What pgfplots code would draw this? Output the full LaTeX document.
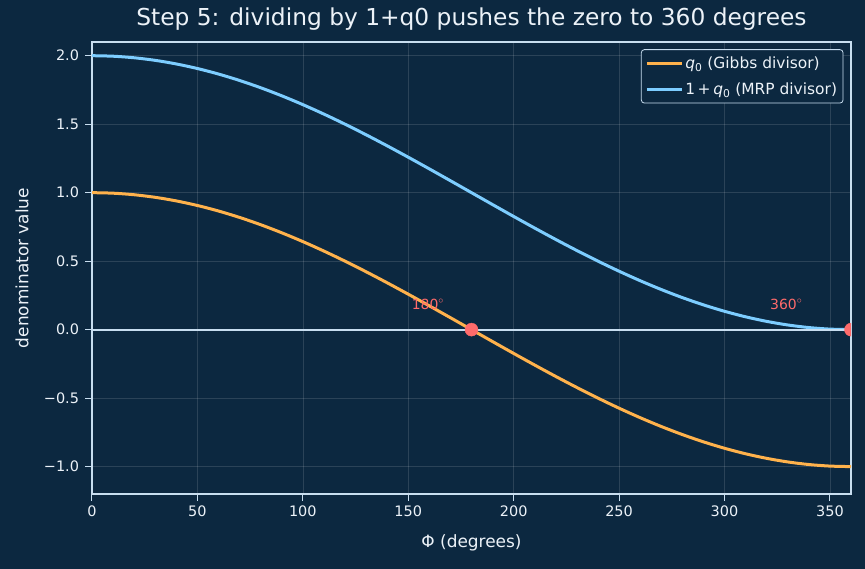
\documentclass[border=0pt]{standalone}
\usepackage{fontspec}
\setmainfont{DejaVu Sans}
\usepackage{pgfplots}
\pgfplotsset{compat=1.18}
\usepackage{pgfplotstable}
\definecolor{bg}{RGB}{12,40,64}
\definecolor{spine}{RGB}{200,222,240}
\definecolor{qorange}{RGB}{255,178,76}
\definecolor{qblue}{RGB}{125,205,255}
\definecolor{mred}{RGB}{255,107,107}
\definecolor{txt}{RGB}{236,242,248}
\pgfplotstableread{
phi q0 onepq0
0 1 2
10 0.99619 1.99619
20 0.98481 1.98481
30 0.96593 1.96593
40 0.93969 1.93969
50 0.90631 1.90631
60 0.86603 1.86603
70 0.81915 1.81915
80 0.76604 1.76604
90 0.70711 1.70711
100 0.64279 1.64279
110 0.57358 1.57358
120 0.5 1.5
130 0.42262 1.42262
140 0.34202 1.34202
150 0.25882 1.25882
160 0.17365 1.17365
170 0.08716 1.08716
180 0 1
190 -0.08716 0.91284
200 -0.17365 0.82635
210 -0.25882 0.74118
220 -0.34202 0.65798
230 -0.42262 0.57738
240 -0.5 0.5
250 -0.57358 0.42642
260 -0.64279 0.35721
270 -0.70711 0.29289
280 -0.76604 0.23396
290 -0.81915 0.18085
300 -0.86603 0.13397
310 -0.90631 0.09369
320 -0.93969 0.06031
330 -0.96593 0.03407
340 -0.98481 0.01519
350 -0.99619 0.00381
360 -1 0
}\datatable
\begin{document}
\begin{tikzpicture}
\fill[bg] (-92bp,-75bp) rectangle (773bp,494bp);
\useasboundingbox (-92bp,-75bp) rectangle (773bp,494bp);
\begin{axis}[
  at={(0,0)}, anchor=south west,
  scale only axis, width=759bp, height=452bp,
  xmin=0, xmax=360, ymin=-1.2, ymax=2.1,
  xtick={0,50,100,150,200,250,300,350},
  ytick={-1,-0.5,0,0.5,1,1.5,2},
  yticklabels={−1.0,−0.5,0.0,0.5,1.0,1.5,2.0},
  /pgf/number format/assume math mode=true,
  xtick pos=lower, ytick pos=left,
  tick align=outside,
  major tick length=6.5bp,
  tick style={spine, line width=1bp},
  axis line style={spine, line width=1.5bp},
  grid=major,
  grid style={white, opacity=0.13, line width=0.6bp},
  ticklabel style={text=txt, font=\fontsize{14.5}{17}\selectfont},
  yticklabel style={xshift=-3bp},
  xticklabel style={yshift=-2bp},
  clip marker paths=true,
  title={Step 5: dividing by 1+q0 pushes the zero to 360 degrees},
  title style={at={(0.5,1)}, anchor=base, yshift=11bp, text=txt, font=\fontsize{23.4}{27}\selectfont},
  xlabel={Φ (degrees)},
  ylabel={denominator value},
  xlabel style={at={(axis description cs:0.5,0)}, anchor=center, yshift=-49bp, text=txt, font=\fontsize{17}{20}\selectfont},
  ylabel style={at={(axis description cs:0,0.5)}, anchor=center, yshift=70bp, text=txt, font=\fontsize{17}{20}\selectfont},
  legend style={at={(0.990,0.984)}, anchor=north east, fill=bg, draw=spine,
    rounded corners=3bp, text=txt, font=\fontsize{15.5}{18}\selectfont,
    line width=0.8bp, inner xsep=4bp, inner ysep=5bp, row sep=9bp},
  legend cell align=left,
  legend image code/.code={\draw[#1, line width=3bp] (0bp,0bp) -- (35bp,0bp);},
]
\addplot[qorange, line width=3bp, smooth] table[x=phi, y=q0] {\datatable};
\addlegendentry{\textit{q}\textsubscript{0} (Gibbs divisor)}
\addplot[qblue, line width=3bp, smooth] table[x=phi, y=onepq0] {\datatable};
\addlegendentry{1\,+\,\textit{q}\textsubscript{0} (MRP divisor)}
\addplot[spine, line width=2bp, forget plot] coordinates {(0,0) (360,0)};
\addplot[only marks, mark=*, mark size=6.5bp, mred, forget plot] coordinates {(180,0) (360,0)};
\node[anchor=base west, text=mred, font=\fontsize{14}{16}\selectfont] at (axis cs:150,0.15) {180$^\circ$};
\node[anchor=base west, text=mred, font=\fontsize{14}{16}\selectfont] at (axis cs:320,0.15) {360$^\circ$};
\end{axis}
\end{tikzpicture}
\end{document}
